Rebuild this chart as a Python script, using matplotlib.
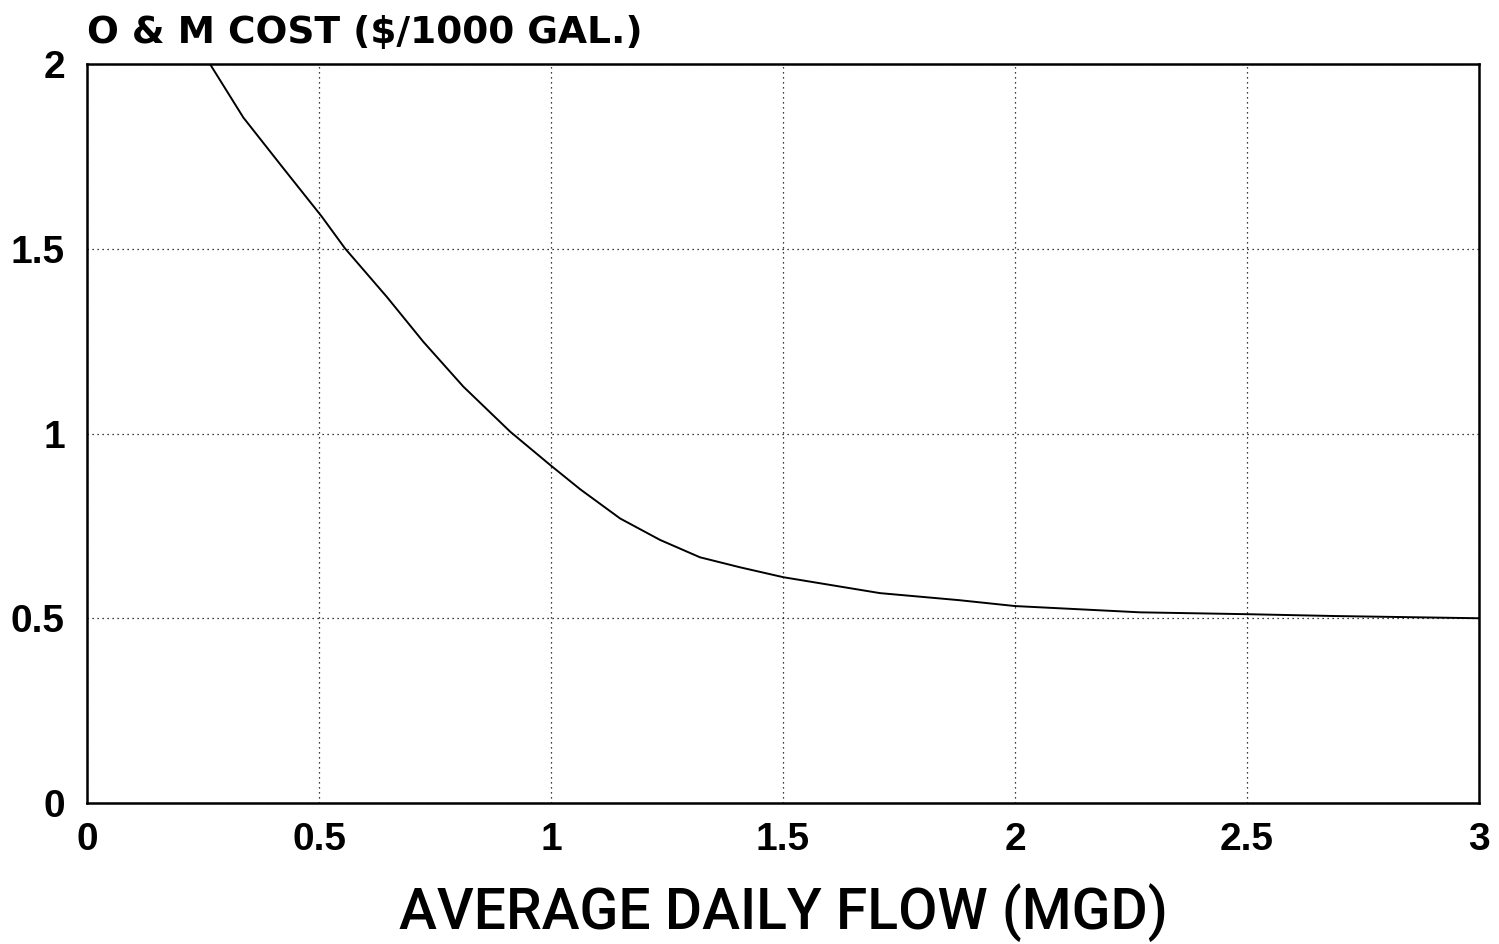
import matplotlib
matplotlib.use("Agg")
import matplotlib.pyplot as plt

# Data
flow_mgd = [0.265, 0.337, 0.423, 0.506, 0.556, 0.646, 0.725, 0.811, 0.912, 0.998,
            1.063, 1.149, 1.235, 1.321, 1.407, 1.501, 1.709, 1.879, 2.00, 2.27,
            2.50, 2.69, 3.00]
om_cost = [2.000, 1.855, 1.718, 1.587, 1.501, 1.370, 1.248, 1.127, 1.005, 0.915,
           0.849, 0.770, 0.712, 0.665, 0.638, 0.611, 0.568, 0.549, 0.533, 0.516,
           0.511, 0.506, 0.500]
x_ticks = [0, 0.5, 1, 1.5, 2, 2.5, 3]
x_tick_labels = ["0", "0.5", "1", "1.5", "2", "2.5", "3"]
y_ticks = [0, 0.5, 1, 1.5, 2]
y_tick_labels = ["0", "0.5", "1", "1.5", "2"]

plt.rcParams['font.family'] = ['Liberation Sans', 'DejaVu Sans']

fig = plt.figure(figsize=(14.99, 9.44), dpi=100)
ax = fig.add_axes([87/1499, 141/944, (1479-87)/1499, (803-64)/944])

ax.plot(flow_mgd, om_cost, color='black', lw=1.4, solid_joinstyle='round')

ax.set_xlim(0, 3)
ax.set_ylim(0, 2)
ax.set_xticks(x_ticks)
ax.set_xticklabels(x_tick_labels)
ax.set_yticks(y_ticks)
ax.set_yticklabels(y_tick_labels)
ax.tick_params(axis='both', length=0, labelsize=28)
ax.tick_params(axis='x', pad=14)
ax.tick_params(axis='y', pad=16)
for lab in ax.get_xticklabels() + ax.get_yticklabels():
    lab.set_fontweight('bold')

ax.grid(True, color='black', linestyle=(0, (1, 3)), linewidth=0.9)
for s in ax.spines.values():
    s.set_linewidth(1.8)
    s.set_color('black')

ax.set_xlabel("AVERAGE DAILY FLOW (MGD)", fontsize=41,
              family=['Roboto', 'Liberation Sans'],
              fontweight='medium', labelpad=18)

fig.text(87/1499, 1 - 43/944, "O & M COST ($/1000 GAL.)", fontsize=27,
         family=['DejaVu Sans'], fontweight='bold', ha='left', va='baseline')

fig.savefig("out.png", dpi=100)
